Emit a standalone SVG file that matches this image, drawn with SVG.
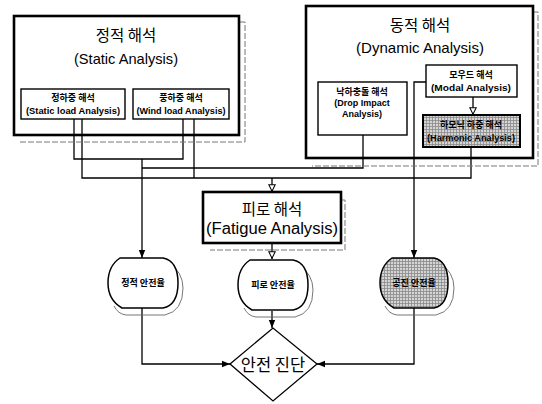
<svg xmlns="http://www.w3.org/2000/svg" width="542" height="404" viewBox="0 0 542 404">
<style>
.big{fill:none;stroke:#000;stroke-width:2.6}
.sub{fill:#fff;stroke:#000;stroke-width:1.4}
.shadow{fill:none;stroke:#777;stroke-width:1;stroke-dasharray:6 2}
.sh{fill:none;stroke:#666;stroke-width:0.9}
.t{font-family:"Liberation Sans","Noto Sans CJK KR",sans-serif;fill:#000;text-anchor:middle}
.k{font-family:"Noto Sans CJK KR","Liberation Sans",sans-serif;fill:#000;text-anchor:middle}
.s{font-family:"Liberation Sans","Noto Sans CJK KR",sans-serif;font-weight:bold;font-size:9px;fill:#000;text-anchor:middle}
.ks{font-family:"Noto Sans CJK KR","Liberation Sans",sans-serif;font-weight:bold;font-size:9px;fill:#000;text-anchor:middle}
.c{fill:none;stroke:#000;stroke-width:1.3}
</style>
<defs>
<marker id="af" viewBox="0 0 10 10" refX="10" refY="5" markerUnits="userSpaceOnUse" markerWidth="8" markerHeight="8" orient="auto"><path d="M0,1L10,5L0,9Z" fill="#000"/></marker>
<marker id="ao" viewBox="0 0 10 10" refX="10" refY="5" markerUnits="userSpaceOnUse" markerWidth="8" markerHeight="8" orient="auto"><path d="M1,1L9,5L1,9Z" fill="#fff" stroke="#000" stroke-width="1.3"/></marker>
<pattern id="hatch" width="3" height="3" patternUnits="userSpaceOnUse"><rect width="3" height="3" fill="#d4d4d4"/><path d="M0,0.5H3M0.5,0V3" stroke="#8a8a8a" stroke-width="0.8"/></pattern>
</defs>

<g id="connectors">
<path class="c" d="M74,119V159H183V119"/>
<path class="c" d="M142,159V258" marker-end="url(#af)"/>
<path class="c" d="M142,168H363V135"/>
<path class="c" d="M194,119V178"/>
<path class="c" d="M82,119V178H471V147"/>
<path class="c" d="M272,178V192" marker-end="url(#ao)"/>
<path class="c" d="M426,82H414V258" marker-end="url(#af)"/>
<path class="c" d="M473,97V115" marker-end="url(#ao)"/>
<path class="c" d="M272,243V259" marker-end="url(#ao)"/>
<path class="c" d="M272,311V328" marker-end="url(#af)"/>
<path class="c" d="M142,308V364H230" marker-end="url(#af)"/>
<path class="c" d="M414,308V364H317" marker-end="url(#af)"/>
</g>

<g id="static">
<path class="shadow" d="M240,22H245V142H20"/>
<rect class="big" x="14" y="16" width="225" height="119" fill="#fff"/>
<text class="k" x="126" y="41" font-size="15.5">정적 해석</text>
<text class="t" x="126" y="64" font-size="15" textLength="104" lengthAdjust="spacingAndGlyphs">(Static Analysis)</text>
</g>
<g id="static-load">
<rect class="sub" x="21" y="89" width="104" height="30"/>
<text class="ks" x="73" y="101">정하중 해석</text>
<text class="s" x="73" y="114" textLength="94" lengthAdjust="spacingAndGlyphs">(Static load Analysis)</text>
</g>
<g id="wind-load">
<rect class="sub" x="133" y="89" width="96" height="30"/>
<text class="ks" x="181" y="101">풍하중 해석</text>
<text class="s" x="181" y="114" textLength="89" lengthAdjust="spacingAndGlyphs">(Wind load Analysis)</text>
</g>

<g id="dynamic">
<path class="shadow" d="M533,12H538V166H312"/>
<rect class="big" x="306" y="6" width="227" height="152" fill="#fff"/>
<text class="k" x="420" y="31" font-size="15.5">동적 해석</text>
<text class="t" x="420" y="53" font-size="15" textLength="128" lengthAdjust="spacingAndGlyphs">(Dynamic Analysis)</text>
</g>
<g id="drop-impact">
<rect class="sub" x="318" y="82" width="89" height="53"/>
<text class="ks" x="362" y="95">낙하충돌 해석</text>
<text class="s" x="362" y="106">(Drop Impact</text>
<text class="s" x="362" y="117">Analysis)</text>
</g>
<g id="modal">
<rect class="sub" x="426" y="65" width="91" height="32"/>
<text class="ks" x="471" y="78">모우드 해석</text>
<text class="s" x="471" y="91" textLength="80" lengthAdjust="spacingAndGlyphs">(Modal Analysis)</text>
</g>
<g id="harmonic">
<rect x="423" y="115" width="97" height="32" fill="url(#hatch)" stroke="#000" stroke-width="2"/>
<text class="ks" x="471" y="128">하모닉 하중 해석</text>
<text class="s" x="471" y="141" textLength="88" lengthAdjust="spacingAndGlyphs">(Harmonic Analysis)</text>
</g>

<g id="fatigue">
<path class="shadow" d="M341,200H345V250H210"/>
<rect class="big" x="203" y="192" width="138" height="51" fill="#fff"/>
<text class="k" x="272" y="215" font-size="15.5">피로 해석</text>
<text class="t" x="272" y="234" font-size="16" textLength="132" lengthAdjust="spacingAndGlyphs">(Fatigue Analysis)</text>
</g>

<g id="static-safety">
<path class="sh" d="M168,262Q183,272 183,288Q183,311 165,315L126,315Q118,314 114,306"/>
<path d="M120,258L163,258Q178,261 178,283Q178,305 163,308L122,308Q108,300 108,283Q108,266 120,258Z" fill="#fff" stroke="#000" stroke-width="1.5"/>
<text class="ks" x="143" y="286">정적 안전율</text>
</g>

<g id="fatigue-safety">
<path class="sh" d="M298,264Q313,274 313,290Q313,313 295,317L256,317Q248,316 244,308"/>
<path d="M250,260L293,260Q308,263 308,285Q308,307 293,310L252,310Q238,302 238,285Q238,268 250,260Z" fill="#fff" stroke="#000" stroke-width="1.5"/>
<text class="ks" x="273" y="288">피로 안전율</text>
</g>

<g id="resonance-safety">
<path class="sh" d="M439,262Q454,272 454,288Q454,311 436,315L397,315Q389,314 385,306"/>
<path d="M392,258L434,258Q448,261 448,283Q448,305 434,308L394,308Q380,300 380,283Q380,266 392,258Z" fill="url(#hatch)" stroke="#000" stroke-width="1.5"/>
<text class="ks" x="414" y="286">공진 안전율</text>
</g>

<g id="diagnosis">
<path d="M230,364L273,328L317,364L273,401Z" fill="#fff" stroke="#000" stroke-width="1.3"/>
<text class="k" x="273" y="371" font-size="16.5">안전 진단</text>
</g>
</svg>
